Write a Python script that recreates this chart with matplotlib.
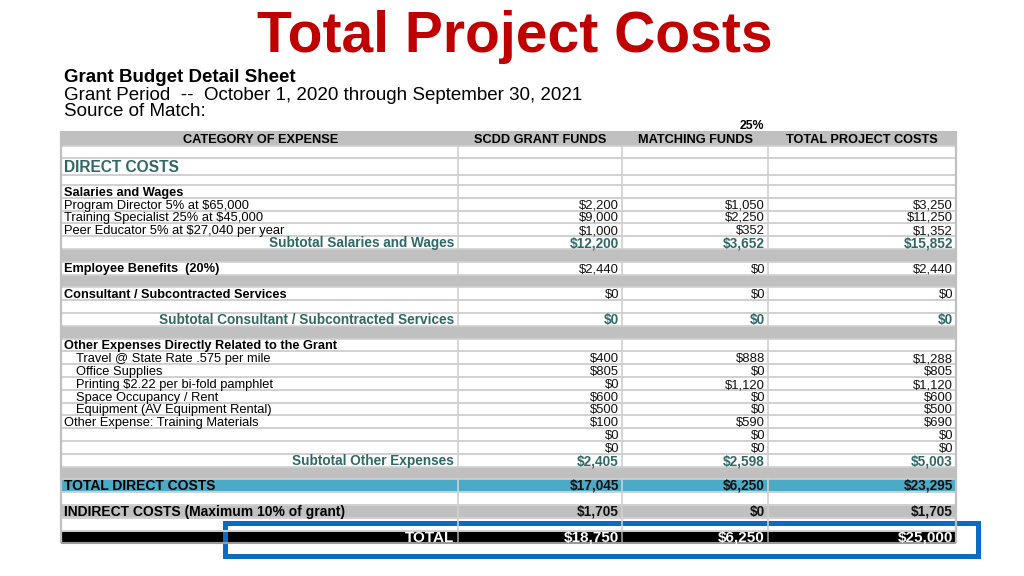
import matplotlib
matplotlib.use('Agg')
import matplotlib.pyplot as plt
from matplotlib.patches import Rectangle

# ---- table content ----
row_labels = [
    "CATEGORY OF EXPENSE", "", "DIRECT COSTS", "",
    "Salaries and Wages",
    "Program Director 5% at $65,000",
    "Training Specialist 25% at $45,000",
    "Peer Educator 5% at $27,040 per year",
    "Subtotal Salaries and Wages",
    "",
    "Employee Benefits  (20%)",
    "",
    "Consultant / Subcontracted Services",
    "",
    "Subtotal Consultant / Subcontracted Services",
    "",
    "Other Expenses Directly Related to the Grant",
    "Travel @ State Rate .575 per mile",
    "Office Supplies",
    "Printing $2.22 per bi-fold pamphlet",
    "Space Occupancy / Rent",
    "Equipment (AV Equipment Rental)",
    "Other Expense: Training Materials",
    "", "",
    "Subtotal Other Expenses",
    "",
    "TOTAL DIRECT COSTS",
    "",
    "INDIRECT COSTS (Maximum 10% of grant)",
    "",
    "TOTAL",
]
row_kind = [
    "head", "blank", "section", "blank",
    "cat", "item", "item", "item", "sub",
    "band", "cat", "band", "cat", "blank", "sub", "band",
    "cat", "indent", "indent", "indent", "indent", "indent", "item",
    "item", "item", "sub", "band",
    "tdc", "blank", "indirect", "blank", "total",
]
grant_vals = [None, None, None, None, None, 2200, 9000, 1000, 12200, None,
              2440, None, 0, None, 0, None, None, 400, 805, 0, 600, 500, 100,
              0, 0, 2405, None, 17045, None, 1705, None, 18750]
match_vals = [None, None, None, None, None, 1050, 2250, 352, 3652, None,
              0, None, 0, None, 0, None, None, 888, 0, 1120, 0, 0, 590,
              0, 0, 2598, None, 6250, None, 0, None, 6250]
total_vals = [None, None, None, None, None, 3250, 11250, 1352, 15852, None,
              2440, None, 0, None, 0, None, None, 1288, 805, 1120, 600, 500, 690,
              0, 0, 5003, None, 23295, None, 1705, None, 25000]
col_headers = ["SCDD GRANT FUNDS", "MATCHING FUNDS", "TOTAL PROJECT COSTS"]

title = "Total Project Costs"
sub_lines = ["Grant Budget Detail Sheet",
             "Grant Period  --  October 1, 2020 through September 30, 2021",
             "Source of Match:"]

# ---- layout (pixels) ----
col_edges = [61, 458, 622, 768, 956]
heights = [15, 12, 17, 10] + [12.8] * (len(row_labels) - 4)
top0 = 131

GRAY = '#c0c0c0'
LINE = '#d0d0d0'
TEAL_TXT = '#2f6868'
TEAL_BG = '#4babc6'
RED = '#c00000'
BLUE = '#0b6bc2'
FONT = 'Liberation Sans'

fig = plt.figure(figsize=(10.24, 5.76), dpi=100)
ax = fig.add_axes([0, 0, 1, 1])
ax.set_xlim(0, 1024)
ax.set_ylim(576, 0)
ax.axis('off')


def cell_text(x, yc, s, fs, ha='left', **kw):
    # put the baseline so capitals sit centred in the row
    base = round(yc + 0.358 * fs * 100 / 72 - 0.3)
    ax.text(x, base, s, ha=ha, va='baseline', fontsize=fs, family=FONT, **kw)


ax.text(515, 37, title, ha='center', va='center', fontsize=41,
        fontweight='bold', color=RED, family=FONT)
ax.text(64, 78, sub_lines[0], ha='left', va='center', fontsize=13.5,
        fontweight='bold', family=FONT)
ax.text(64, 96, sub_lines[1], ha='left', va='center', fontsize=13.5, family=FONT)
ax.text(64, 112, sub_lines[2], ha='left', va='center', fontsize=13.5, family=FONT)
cell_text(752, 125, "25%", 8.8, ha='center', fontweight='bold')

tops = []
y = top0
for h in heights:
    tops.append(y)
    y += h
bottom = y
width = col_edges[-1] - col_edges[0]

bg_for = {"head": GRAY, "band": GRAY, "tdc": TEAL_BG, "indirect": GRAY,
          "total": 'black'}

# row backgrounds
for i, kind in enumerate(row_kind):
    c = bg_for.get(kind, 'white')
    ax.barh(tops[i] + heights[i] / 2, width, height=heights[i],
            left=col_edges[0], color=c, edgecolor='none')

# grid lines on non-band rows
for i, kind in enumerate(row_kind):
    if kind in ("head", "band"):
        continue
    lc = '#9a9a9a' if kind == "total" else LINE
    ax.vlines(col_edges, tops[i], tops[i] + heights[i], colors=lc, lw=1.2)
    ax.hlines([tops[i], tops[i] + heights[i]], col_edges[0], col_edges[-1],
              colors=LINE, lw=1.2)
ax.vlines([col_edges[-1]], top0, bottom, colors=GRAY, lw=1.6)
ax.vlines([col_edges[0]], top0, bottom, colors=GRAY, lw=1.6)
ax.hlines([bottom], col_edges[0], col_edges[-1], colors='#9a9a9a', lw=1.5)

# header texts
yc = tops[0] + heights[0] / 2
cell_text((col_edges[0] + col_edges[1]) / 2 + 1, yc, row_labels[0], 9.2,
          ha='center', fontweight='bold')
for j, h in enumerate(col_headers):
    cell_text((col_edges[j + 1] + col_edges[j + 2]) / 2, yc, h, 9.2,
              ha='center', fontweight='bold')

# body
for i in range(1, len(row_labels)):
    kind = row_kind[i]
    yc = tops[i] + heights[i] / 2
    lab = row_labels[i]
    if lab:
        if kind == "section":
            cell_text(64, yc, lab, 11.2, fontweight='bold', color=TEAL_TXT)
        elif kind == "sub":
            cell_text(col_edges[1] - 4, yc, lab, 9.8, ha='right',
                      fontweight='bold', color=TEAL_TXT)
        elif kind == "total":
            cell_text(col_edges[1] - 4, yc, lab, 11, ha='right',
                      fontweight='bold', color='white')
        elif kind == "indent":
            cell_text(76, yc, lab, 9.3)
        elif kind == "cat":
            cell_text(64, yc, lab, 9.2, fontweight='bold')
        elif kind in ("tdc", "indirect"):
            cell_text(64, yc, lab, 10, fontweight='bold')
        else:
            cell_text(64, yc, lab, 9.3)
    for j, vals in enumerate([grant_vals, match_vals, total_vals]):
        v = vals[i]
        if v is None:
            continue
        s = "${:,}".format(v)
        x = col_edges[j + 2] - 3
        if kind == "sub":
            cell_text(x, yc, s, 9.8, ha='right', fontweight='bold', color=TEAL_TXT)
        elif kind == "total":
            cell_text(x, yc, s, 11, ha='right', fontweight='bold', color='white')
        elif kind in ("tdc", "indirect"):
            cell_text(x, yc, s, 9.8, ha='right', fontweight='bold', color='#111111')
        else:
            cell_text(x, yc, s, 9.4, ha='right', color='#111111')

# highlight box around total row
ax.add_patch(Rectangle((224.5, 522.5), 753, 33, fill=False, ec=BLUE,
                       lw=3.6, clip_on=False))

fig.savefig("out.png", dpi=100)
